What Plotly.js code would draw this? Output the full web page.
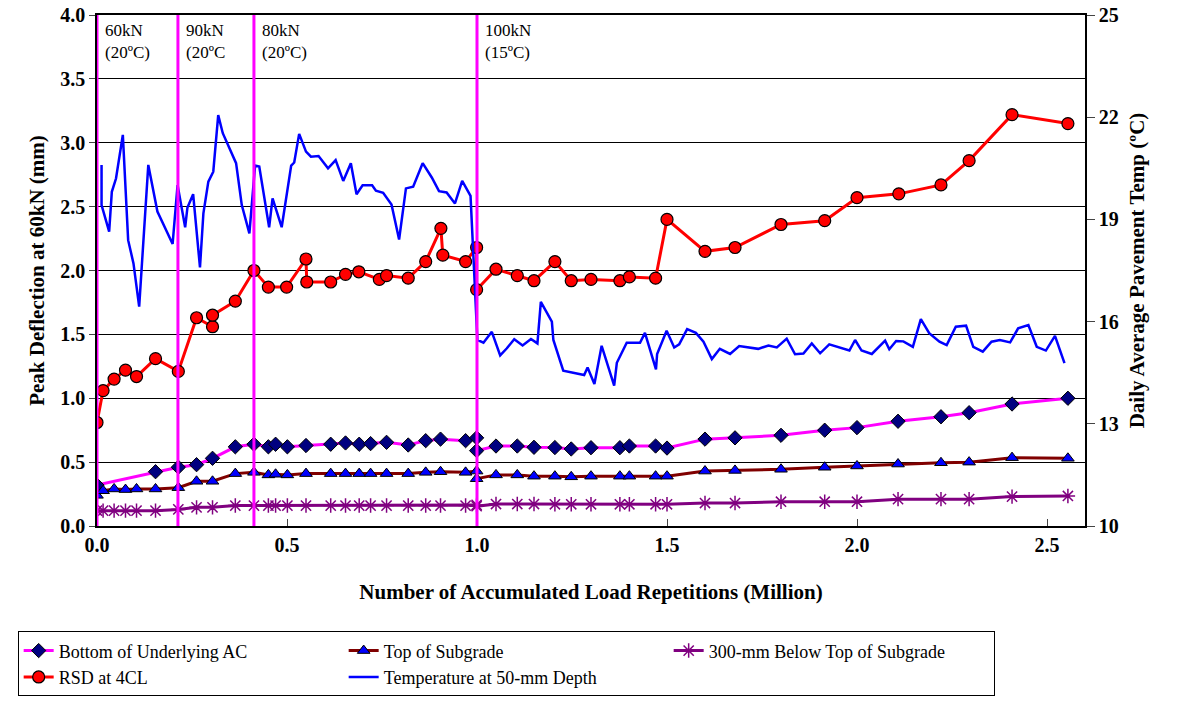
<!DOCTYPE html>
<html>
<head>
<meta charset="utf-8">
<script src="https://cdn.plot.ly/plotly-3.0.1.min.js"></script>
<style>body{margin:0;background:#fff}#myDiv{width:1178px;height:711px}</style>
</head>
<body>
<div id="myDiv"></div>
<script>
// load repetitions (million) and peak deflections (mm)
let acX = [0, 0.154, 0.214, 0.262, 0.304, 0.364, 0.413, 0.451, 0.47, 0.501, 0.55, 0.615, 0.654, 0.69, 0.72, 0.762, 0.819, 0.865, 0.904, 0.97, 0.999, 0.999,
  1.05, 1.106, 1.15, 1.205, 1.248, 1.3, 1.376, 1.401, 1.47, 1.5, 1.6, 1.679, 1.8, 1.915, 2.0, 2.108, 2.221, 2.295, 2.408, 2.555];
let acY = [0.32, 0.425, 0.46, 0.48, 0.53, 0.62, 0.64, 0.62, 0.64, 0.62, 0.63, 0.64, 0.65, 0.64, 0.645, 0.655, 0.634, 0.668, 0.68, 0.668, 0.69, 0.59,
  0.626, 0.626, 0.616, 0.614, 0.603, 0.613, 0.613, 0.626, 0.626, 0.61, 0.68, 0.69, 0.71, 0.75, 0.77, 0.82, 0.855, 0.887, 0.955, 1.0];

let sgX = [0, 0.016, 0.045, 0.075, 0.104, 0.154, 0.214, 0.262, 0.304, 0.364, 0.413, 0.451, 0.47, 0.501, 0.55, 0.615, 0.654, 0.69, 0.72, 0.762, 0.819, 0.865, 0.904, 0.97, 0.999, 0.999,
  1.05, 1.106, 1.15, 1.205, 1.248, 1.3, 1.376, 1.401, 1.47, 1.5, 1.6, 1.679, 1.8, 1.915, 2.0, 2.108, 2.221, 2.295, 2.408, 2.555];
let sgY = [0.24, 0.276, 0.29, 0.285, 0.29, 0.29, 0.30, 0.35, 0.35, 0.41, 0.42, 0.40, 0.405, 0.40, 0.41, 0.41, 0.41, 0.41, 0.41, 0.41, 0.41, 0.42, 0.425, 0.42, 0.43, 0.37,
  0.40, 0.40, 0.39, 0.39, 0.385, 0.39, 0.39, 0.39, 0.39, 0.39, 0.43, 0.435, 0.444, 0.46, 0.47, 0.485, 0.495, 0.50, 0.535, 0.53];

let sg300X = sgX;
let sg300Y = [0.12, 0.12, 0.12, 0.12, 0.12, 0.12, 0.13, 0.146, 0.146, 0.16, 0.16, 0.16, 0.16, 0.16, 0.16, 0.16, 0.16, 0.16, 0.16, 0.16, 0.16, 0.16, 0.16, 0.16, 0.165, 0.155,
  0.172, 0.172, 0.172, 0.17, 0.17, 0.17, 0.17, 0.17, 0.17, 0.17, 0.18, 0.18, 0.19, 0.19, 0.19, 0.21, 0.21, 0.21, 0.23, 0.235];

let rsdX = [0, 0.016, 0.045, 0.075, 0.104, 0.154, 0.214, 0.262, 0.304, 0.304, 0.364, 0.413, 0.451, 0.499, 0.55, 0.552, 0.615, 0.654, 0.689, 0.743, 0.762, 0.819, 0.865, 0.905, 0.91, 0.97, 0.999, 0.999,
  1.05, 1.106, 1.15, 1.205, 1.248, 1.3, 1.376, 1.401, 1.47, 1.5, 1.6, 1.679, 1.8, 1.915, 2.0, 2.11, 2.221, 2.295, 2.408, 2.555];
let rsdY = [0.81, 1.06, 1.15, 1.22, 1.17, 1.31, 1.21, 1.63, 1.56, 1.65, 1.76, 2.0, 1.87, 1.87, 2.09, 1.91, 1.91, 1.97, 1.99, 1.93, 1.96, 1.94, 2.07, 2.33, 2.12, 2.07, 2.18, 1.85,
  2.01, 1.96, 1.92, 2.07, 1.92, 1.93, 1.92, 1.95, 1.94, 2.4, 2.15, 2.18, 2.36, 2.39, 2.57, 2.6, 2.67, 2.86, 3.22, 3.15];

// daily average pavement temperature at 50 mm (degC)
let tempX = [0.012, 0.012, 0.032, 0.039, 0.05, 0.068, 0.082, 0.096, 0.111, 0.135, 0.159, 0.199, 0.212, 0.232, 0.238, 0.253, 0.271, 0.28, 0.293, 0.306,
  0.319, 0.331, 0.366, 0.381, 0.401, 0.416, 0.427, 0.453, 0.462, 0.486, 0.511, 0.519, 0.532, 0.55, 0.563, 0.583, 0.608, 0.628, 0.648, 0.668,
  0.683, 0.699, 0.724, 0.734, 0.753, 0.775, 0.795, 0.813, 0.832, 0.857, 0.881, 0.9, 0.92, 0.942, 0.961, 0.983,
  1.001, 1.017, 1.039, 1.061, 1.078, 1.098, 1.12, 1.142, 1.159, 1.168, 1.197, 1.201, 1.227, 1.282, 1.291, 1.309, 1.328, 1.361, 1.368, 1.394,
  1.429, 1.442, 1.471, 1.474, 1.499, 1.519, 1.532, 1.553, 1.576, 1.596, 1.618, 1.639, 1.666, 1.69, 1.74, 1.767, 1.789, 1.815, 1.837, 1.859,
  1.881, 1.903, 1.927, 1.951, 1.98, 1.995, 2.012, 2.039, 2.074, 2.085, 2.103, 2.122, 2.147, 2.168, 2.19, 2.217, 2.236, 2.26, 2.287, 2.306,
  2.331, 2.354, 2.376, 2.403, 2.424, 2.451, 2.473, 2.497, 2.521, 2.546];
let tempY = [20.6, 19.42, 18.64, 19.81, 20.2, 21.48, 18.39, 17.71, 16.44, 20.6, 19.23, 18.28, 20.01, 18.77, 19.35, 19.74, 17.59, 19.18, 20.11, 20.4,
  22.06, 21.53, 20.65, 19.42, 18.59, 20.58, 20.55, 18.77, 19.62, 18.77, 20.58, 20.67, 21.51, 20.99, 20.84, 20.86, 20.5, 20.74, 20.13, 20.65,
  19.74, 20.0, 20.0, 19.84, 19.78, 19.44, 18.41, 19.91, 19.96, 20.65, 20.23, 19.83, 19.79, 19.47, 20.13, 19.69,
  15.46, 15.38, 15.7, 15.01, 15.21, 15.48, 15.3, 15.49, 15.36, 16.58, 16.0, 15.46, 14.56, 14.43, 14.65, 14.17, 15.29, 14.12, 14.79, 15.38,
  15.38, 15.67, 14.6, 15.05, 15.73, 15.24, 15.33, 15.78, 15.67, 15.41, 14.9, 15.2, 15.05, 15.28, 15.2, 15.3, 15.24, 15.5, 15.04, 15.06,
  15.36, 15.07, 15.33, 15.24, 15.15, 15.46, 15.15, 15.05, 15.44, 15.19, 15.43, 15.42, 15.26, 16.07, 15.66, 15.41, 15.31, 15.85, 15.88, 15.26,
  15.12, 15.41, 15.46, 15.39, 15.8, 15.9, 15.26, 15.15, 15.58, 14.78];

// load change boundaries and labels
let loadX = [0, 0.213, 0.413, 1.0];
let loadLabels = ["60kN<br>(20ºC)", "90kN<br>(20ºC", "80kN<br>(20ºC)", "100kN<br>(15ºC)"];

const serif = "Liberation Serif, Times New Roman, serif";

let acTrace = {
  x: acX, y: acY, mode: "lines+markers", name: "Bottom of Underlying AC",
  line: {color: "#FF00FF", width: 3},
  marker: {symbol: "diamond", size: 11, color: "#000080", line: {color: "#000000", width: 1}}
};
let sgTrace = {
  x: sgX, y: sgY, mode: "lines+markers", name: "Top of Subgrade",
  line: {color: "#800000", width: 3},
  marker: {symbol: "triangle-up", size: 11, color: "#0000FF", line: {color: "#000000", width: 1}}
};
let sg300Trace = {
  x: sg300X, y: sg300Y, mode: "lines+markers", name: "300-mm Below Top of Subgrade",
  line: {color: "#800080", width: 3},
  marker: {symbol: "asterisk-open", size: 12, color: "#800080", line: {color: "#800080", width: 1.5}}
};
let rsdTrace = {
  x: rsdX, y: rsdY, mode: "lines+markers", name: "RSD at 4CL",
  line: {color: "#FF0000", width: 3},
  marker: {symbol: "circle", size: 12, color: "#FF0000", line: {color: "#000000", width: 1.2}}
};
let tempTrace = {
  x: tempX, y: tempY, yaxis: "y2", mode: "lines", name: "Temperature at 50-mm Depth",
  line: {color: "#0000FF", width: 2.5}
};

let shapes = loadX.map(v => ({
  type: "line", xref: "x", yref: "paper", x0: v, x1: v, y0: 0, y1: 1,
  line: {color: "#FF00FF", width: 3}
}));
let annotations = loadX.map((v, i) => ({
  x: v, y: 1, xref: "x", yref: "paper", text: loadLabels[i], showarrow: false,
  xanchor: "left", yanchor: "top", xshift: 6, yshift: -4, align: "left",
  font: {family: serif, size: 17, color: "#000"}
}));

let layout = {
  width: 1178, height: 711,
  margin: {l: 97, r: 93, t: 15, b: 185},
  paper_bgcolor: "#fff", plot_bgcolor: "#fff",
  font: {family: serif, color: "#000"},
  showlegend: true,
  legend: {
    orientation: "h", xref: "container", yref: "container", x: 0.015, y: 0.112, xanchor: "left", yanchor: "top",
    entrywidth: 280, entrywidthmode: "pixels",
    bordercolor: "#000", borderwidth: 1, bgcolor: "#fff",
    font: {family: serif, size: 18, color: "#000"}, traceorder: "normal"
  },
  xaxis: {
    range: [0, 2.6], tickvals: [0, 0.5, 1, 1.5, 2, 2.5], ticktext: ["0.0", "0.5", "1.0", "1.5", "2.0", "2.5"],
    ticks: "inside", ticklen: 7, showgrid: false, zeroline: false,
    showline: true, linecolor: "#000", linewidth: 1.5, mirror: true, automargin: false,
    tickfont: {family: serif, size: 20, weight: "bold"},
    title: {text: "<b>Number of Accumulated Load Repetitions (Million)</b>", font: {family: serif, size: 21}, standoff: 30}
  },
  yaxis: {
    range: [0, 4], dtick: 0.5, tickformat: ".1f", ticks: "outside", ticklen: 6,
    showgrid: true, gridcolor: "#000", gridwidth: 1, zeroline: false,
    showline: true, linecolor: "#000", linewidth: 1.5, automargin: false,
    tickfont: {family: serif, size: 20, weight: "bold"},
    title: {text: "<b>Peak Deflection at 60kN (mm)</b>", font: {family: serif, size: 21}, standoff: 10}
  },
  yaxis2: {
    range: [10, 25], tick0: 10, dtick: 3, overlaying: "y", side: "right", ticks: "outside", ticklen: 8,
    showgrid: false, zeroline: false, showline: true, linecolor: "#000", linewidth: 1.5, automargin: false,
    tickfont: {family: serif, size: 20, weight: "bold"},
    title: {text: "<b>Daily Average Pavement Temp (ºC)</b>", font: {family: serif, size: 21}, standoff: 12}
  },
  shapes: shapes,
  annotations: annotations
};

Plotly.newPlot("myDiv", [acTrace, sgTrace, sg300Trace, rsdTrace, tempTrace], layout, {displayModeBar: false});
</script>
</body>
</html>
